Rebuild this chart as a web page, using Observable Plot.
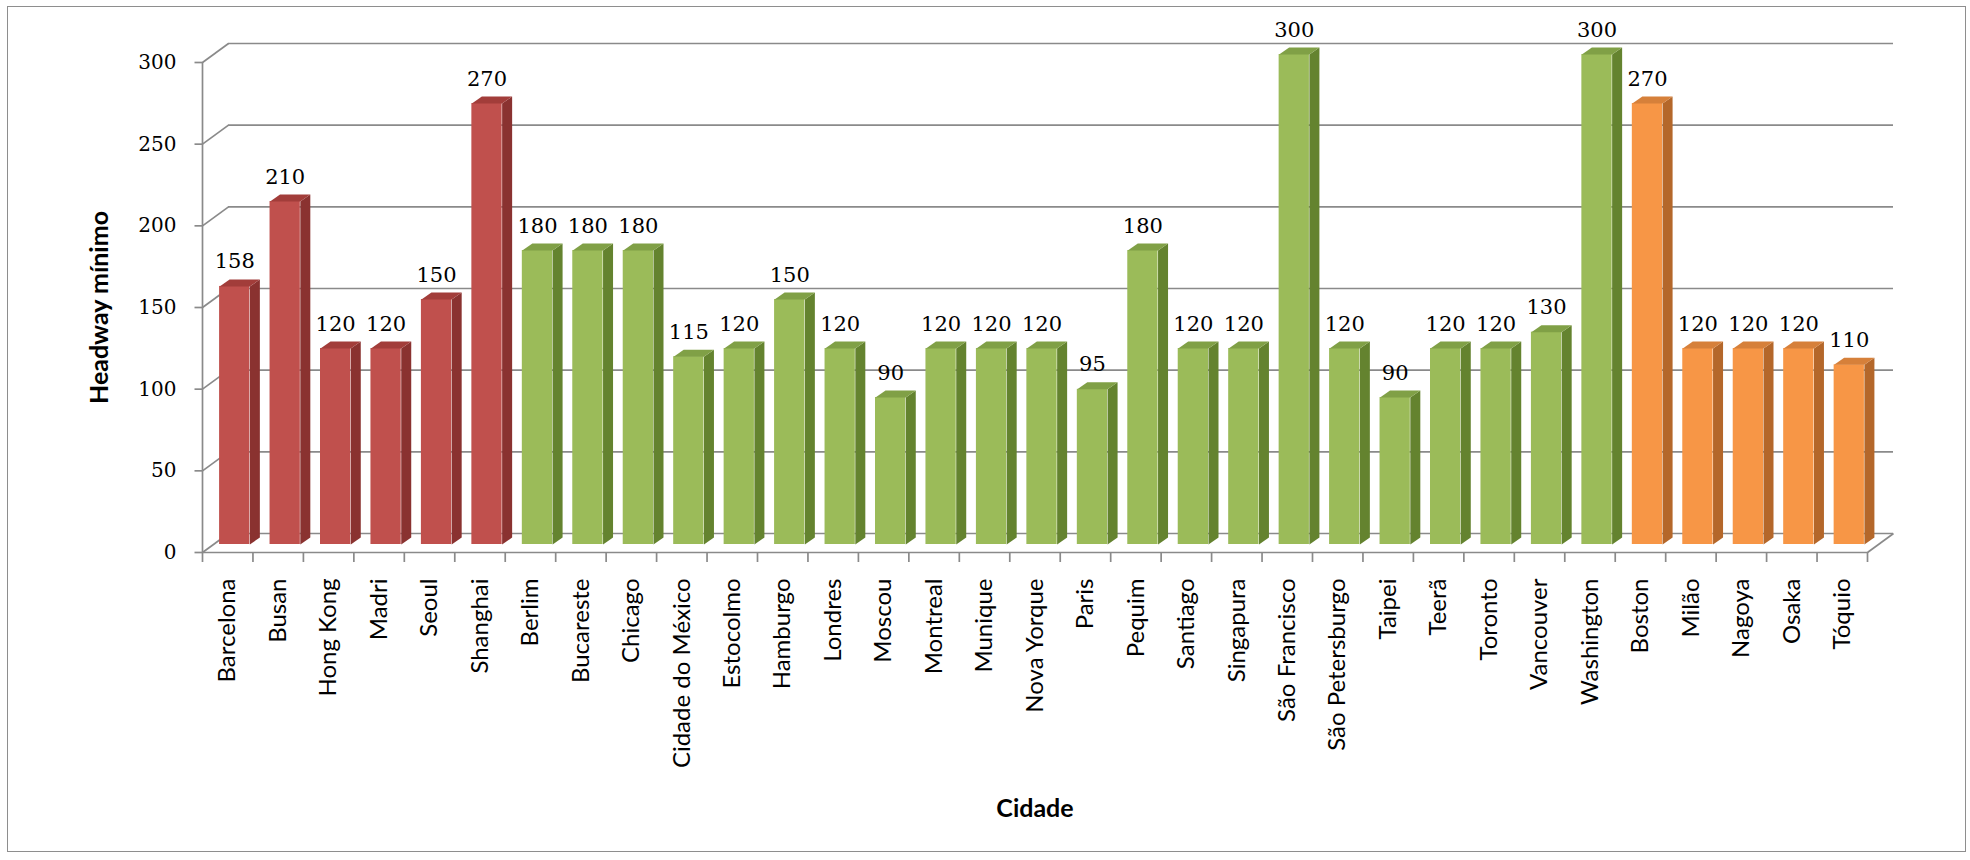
<!DOCTYPE html>
<html>
<head>
<meta charset="utf-8">
<script src="https://cdn.jsdelivr.net/npm/d3@7"></script>
<script src="https://cdn.jsdelivr.net/npm/@observablehq/plot@0.6"></script>
<style>
  html, body { margin: 0; padding: 0; background: #fff; }
  #wrap { position: relative; width: 1970px; height: 860px; overflow: hidden; }
  #border { position: absolute; left: 7px; top: 6px; width: 1959px; height: 846px;
            border: 1.5px solid #8e8e8e; pointer-events: none; box-sizing: border-box; }
</style>
</head>
<body>
<div id="wrap"><div id="border"></div></div>
<script>
// ---- data ----
const cidades = [
  "Barcelona", "Busan", "Hong Kong", "Madri", "Seoul", "Shanghai",
  "Berlim", "Bucareste", "Chicago", "Cidade do México", "Estocolmo", "Hamburgo",
  "Londres", "Moscou", "Montreal", "Munique", "Nova Yorque", "Paris", "Pequim",
  "Santiago", "Singapura", "São Francisco", "São Petersburgo", "Taipei", "Teerã",
  "Toronto", "Vancouver", "Washington",
  "Boston", "Milão", "Nagoya", "Osaka", "Tóquio"
];
const headway = [
  158, 210, 120, 120, 150, 270,
  180, 180, 180, 115, 120, 150,
  120, 90, 120, 120, 120, 95, 180,
  120, 120, 300, 120, 90, 120,
  120, 130, 300,
  270, 120, 120, 120, 110
];
const grupo = [
  0, 0, 0, 0, 0, 0,
  1, 1, 1, 1, 1, 1, 1, 1, 1, 1, 1, 1, 1, 1, 1, 1, 1, 1, 1, 1, 1, 1,
  2, 2, 2, 2, 2
];
const yTicks = [0, 50, 100, 150, 200, 250, 300];

// palette per group: front, side, top
const frontColors = ["#C0504D", "#9BBB59", "#F79646"];
const sideColors  = ["#8A3230", "#64832F", "#B4672A"];
const topColors   = ["#A23D3A", "#80A046", "#D6803A"];

// ---- layout constants (pixels) ----
const W = 1970, H = 860;
const mL = 202, mR = 103, mT = 62, mB = 308;
const n = cidades.length;
const xu = (W - mL - mR) / n;        // px per category
const yu = (H - mT - mB) / 300;      // px per unit
const wallDX = 26 / xu, wallDY = 19 / yu;   // back-wall offset in data units
const sideDX = 10 / xu, sideDY = 7 / yu;    // bar depth in data units
const barDX = 7, barDY = -8;                // bar plane offset (px)

const rows = cidades.map((c, i) => ({i, cidade: c, v: headway[i], g: grupo[i]}));

const sides = rows.flatMap(d => {
  const x2 = d.i + 0.8, x3 = x2 + sideDX;
  return [[x2, 0], [x2, d.v], [x3, d.v + sideDY], [x3, sideDY]]
    .map(([x, y]) => ({id: d.i, x, y, c: sideColors[d.g]}));
});
const tops = rows.flatMap(d => {
  const x1 = d.i + 0.2, x2 = d.i + 0.8;
  return [[x1, d.v], [x2, d.v], [x2 + sideDX, d.v + sideDY], [x1 + sideDX, d.v + sideDY]]
    .map(([x, y]) => ({id: d.i, x, y, c: topColors[d.g]}));
});

const gridColor = "#8a8a8a";

const chart = Plot.plot({
  width: W, height: H,
  marginLeft: mL, marginRight: mR, marginTop: mT, marginBottom: mB,
  x: {domain: [0, n], axis: null},
  y: {domain: [0, 300], ticks: yTicks, tickSize: 0, tickPadding: 26, label: null},
  color: {type: "identity"},
  style: {fontFamily: "DejaVu Serif", fontSize: "20px", color: "#000", background: "transparent", overflow: "visible"},
  marks: [
    // back wall gridlines
    Plot.ruleY(yTicks, {y: d => d, x1: 0, x2: n, dx: 26, dy: -19, stroke: gridColor, strokeWidth: 1.7}),
    // left wall diagonals
    Plot.link(yTicks, {x1: 0, y1: d => d, x2: wallDX, y2: d => d + wallDY, stroke: gridColor, strokeWidth: 1.7}),
    // floor right diagonal
    Plot.link([0], {x1: n, y1: 0, x2: n + wallDX, y2: wallDY, stroke: gridColor, strokeWidth: 1.7}),
    // front axis lines
    Plot.ruleY([0], {x1: 0, x2: n, stroke: gridColor, strokeWidth: 1.7}),
    Plot.ruleX([0], {y1: 0, y2: 300, stroke: gridColor, strokeWidth: 1.7}),
    // y tick marks
    Plot.link(yTicks, {x1: -8 / xu, x2: 0, y1: d => d, y2: d => d, stroke: gridColor, strokeWidth: 1.7}),
    // x tick marks
    Plot.ruleX(d3.range(n + 1), {x: d => d, y1: 0, y2: -10 / yu, stroke: gridColor, strokeWidth: 1.7}),
    // bars: front faces
    Plot.rect(rows, {x1: d => d.i + 0.2, x2: d => d.i + 0.8, y1: 0, y2: "v",
      fill: d => frontColors[d.g], dx: barDX, dy: barDY}),
    // bars: side faces
    Plot.line(sides, {x: "x", y: "y", z: "id", fill: "c", stroke: null, dx: barDX, dy: barDY}),
    // bars: top faces
    Plot.line(tops, {x: "x", y: "y", z: "id", fill: "c", stroke: null, dx: barDX, dy: barDY}),
    // value labels
    Plot.text(rows, {x: d => d.i + 0.5, y: "v", text: d => String(d.v), dx: barDX, dy: barDY - 18,
      lineAnchor: "bottom", fontFamily: "DejaVu Serif", fontSize: 21, fill: "#000"}),
    // category labels
    Plot.text(rows, {x: d => d.i + 0.5, y: 0, text: "cidade", rotate: -90, textAnchor: "end",
      lineAnchor: "middle", dy: 26, fontFamily: "Lato", fontSize: 24, fill: "#000"}),
    // axis titles
    Plot.text(["Headway mínimo"], {frameAnchor: "left", text: d => d, rotate: -90, dx: -103,
      textAnchor: "middle", lineAnchor: "middle", fontFamily: "Lato", fontWeight: "bold", fontSize: 25, fill: "#000"}),
    Plot.text(["Cidade"], {frameAnchor: "bottom", text: d => d, dy: 256, textAnchor: "middle",
      lineAnchor: "middle", fontFamily: "Lato", fontWeight: "bold", fontSize: 25, fill: "#000"})
  ]
});
document.getElementById("wrap").prepend(chart);
</script>
</body>
</html>
